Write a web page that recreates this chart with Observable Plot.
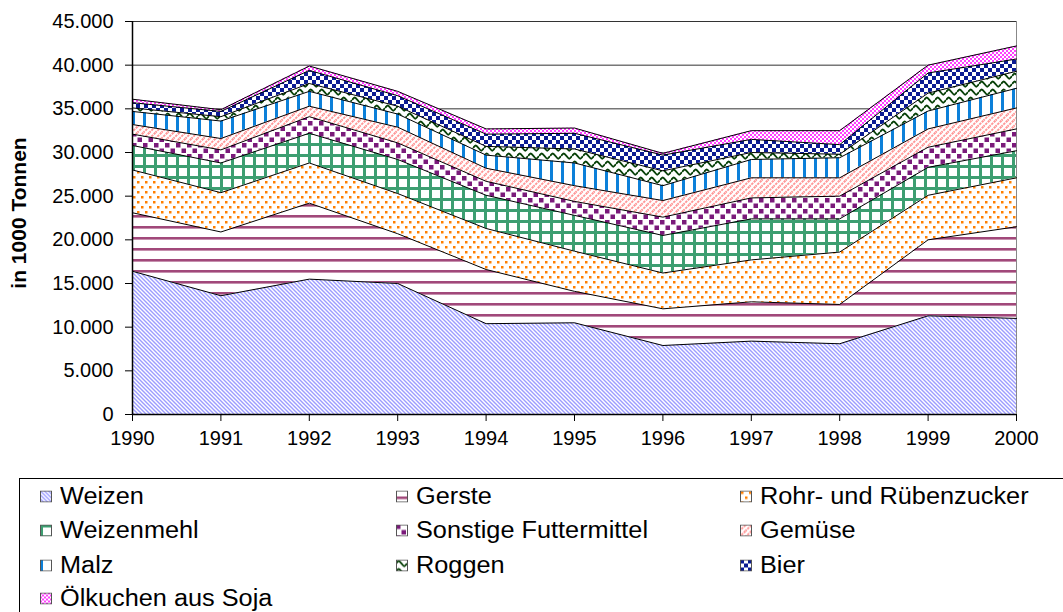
<!DOCTYPE html>
<html><head><meta charset="utf-8">
<script src="https://cdn.jsdelivr.net/npm/d3@7"></script>
<script src="https://cdn.jsdelivr.net/npm/@observablehq/plot@0.6"></script>
<style>
body{margin:0;background:#fff;font-family:"Liberation Sans",Arial,sans-serif;}
#wrap{position:relative;width:1063px;height:612px;overflow:hidden;background:#fff;}
#chart{position:absolute;left:0;top:0;}
#ytitle{position:absolute;left:19px;top:213px;transform:translate(-50%,-50%) rotate(-90deg);font-weight:bold;font-size:21px;white-space:nowrap;color:#000;}
#legend{position:absolute;left:19px;top:478px;width:1100px;height:200px;border:1px solid #000;box-sizing:border-box;}
.item{position:absolute;display:flex;align-items:center;font-size:23px;white-space:nowrap;transform:translateY(-50%);color:#000;}
.item svg{margin-right:8px;flex:none}
.item span{display:inline-block;transform:scaleX(1.1);transform-origin:left center;}
</style></head><body>
<svg width="0" height="0" style="position:absolute">
<defs>
<pattern id="pWeizen" patternUnits="userSpaceOnUse" width="4" height="4">
<rect width="4" height="4" fill="#fff"/>
<path d="M-1,-1L5,5M3,-1L5,1M-1,3L1,5" stroke="#9c9cff" stroke-width="1.4"/>
</pattern>
<pattern id="pGerste" patternUnits="userSpaceOnUse" y="6" width="10" height="11">
<rect width="10" height="11" fill="#fff"/>
<rect y="0" width="10" height="2.6" fill="#a1487a"/>
</pattern>
<pattern id="pZucker" patternUnits="userSpaceOnUse" width="8" height="10">
<rect width="8" height="10" fill="#fff"/>
<rect x="1" y="1" width="2.5" height="2.5" fill="#ff7f00"/>
<rect x="5" y="6" width="2.5" height="2.5" fill="#ff7f00"/>
</pattern>
<pattern id="pMehl" patternUnits="userSpaceOnUse" width="11" height="11">
<rect width="11" height="11" fill="#fff"/>
<rect x="0" y="0" width="3" height="11" fill="#3d9e71"/>
<rect x="0" y="0" width="11" height="3" fill="#3d9e71"/>
</pattern>
<pattern id="pFutter" patternUnits="userSpaceOnUse" width="11" height="11">
<rect width="11" height="11" fill="#fff"/>
<rect x="0" y="0" width="4.5" height="4.5" fill="#7a1a7a"/>
<rect x="5.5" y="5.5" width="4.5" height="4.5" fill="#7a1a7a"/>
</pattern>
<pattern id="pGemuese" patternUnits="userSpaceOnUse" width="6" height="6">
<rect width="6" height="6" fill="#fff"/>
<path d="M-1,7L7,-1M-1,1L1,-1M5,7L7,5" stroke="#ff9696" stroke-width="2" stroke-dasharray="2.4 1"/>
</pattern>
<pattern id="pMalz" patternUnits="userSpaceOnUse" width="11" height="10">
<rect width="11" height="10" fill="#fff"/>
<rect x="0" y="0" width="3" height="10" fill="#0c80d9"/>
</pattern>
<pattern id="pRoggen" patternUnits="userSpaceOnUse" width="11" height="8">
<rect width="11" height="8" fill="#fff"/>
<path d="M0,4C2.75,0.5 2.75,0.5 5.5,4S8.25,7.5 11,4" stroke="#074007" stroke-width="2" fill="none"/>
</pattern>
<pattern id="pBier" patternUnits="userSpaceOnUse" width="8" height="8">
<rect width="8" height="8" fill="#fff"/>
<rect x="0" y="0" width="4" height="4" fill="#0b1b92"/>
<rect x="4" y="4" width="4" height="4" fill="#0b1b92"/>
</pattern>
<pattern id="pOel" patternUnits="userSpaceOnUse" width="4" height="4">
<rect width="4" height="4" fill="#fff"/>
<rect x="0" y="0" width="2" height="2" fill="#ff40ff"/>
<rect x="2" y="2" width="2" height="2" fill="#ff40ff"/>
</pattern>
</defs></svg>
<div id="wrap"><div id="chart"></div><div id="ytitle">in 1000 Tonnen</div><div id="legend"></div></div>
<script>
const years = [1990,1991,1992,1993,1994,1995,1996,1997,1998,1999,2000];
const seriesNames = ["Weizen","Gerste","Rohr- und Rübenzucker","Weizenmehl","Sonstige Futtermittel","Gemüse","Malz","Roggen","Bier","Ölkuchen aus Soja"];
const patternIds = ["pWeizen","pGerste","pZucker","pMehl","pFutter","pGemuese","pMalz","pRoggen","pBier","pOel"];
const weizen    = [16400,13600,15500,15000,10400,10500,7900,8400,8100,11300,11000];
const gerste    = [6700,7300,8700,5700,6200,3600,4200,4500,4500,8700,10500];
const zucker    = [4900,4500,4600,4600,4700,4600,4100,4800,6000,5100,5600];
const weizenmehl= [2800,3400,3400,3900,3800,4100,4300,4700,3800,3200,3100];
const futter    = [1300,1500,1900,1900,1600,1600,2100,2400,2600,2300,2500];
const gemuese   = [1100,1300,1200,1800,1500,1800,1900,2300,2100,2100,2400];
const malz      = [1500,2000,1700,1500,1500,2600,1700,2100,2300,2050,2250];
const roggen    = [400,500,900,900,1000,1600,1700,800,400,2050,1950];
const bier      = [600,600,1500,1200,1400,1800,1800,1500,1100,2300,1400];
const oelkuchen = [400,200,500,500,600,600,200,1000,1600,900,1500];
const yTicks = [0,5000,10000,15000,20000,25000,30000,35000,40000,45000];
const legendRows = [["Weizen","Gerste","Rohr- und Rübenzucker"],["Weizenmehl","Sonstige Futtermittel","Gemüse"],["Malz","Roggen","Bier"],["Ölkuchen aus Soja"]];

const valuesList = [weizen,gerste,zucker,weizenmehl,futter,gemuese,malz,roggen,bier,oelkuchen];
const data = [];
seriesNames.forEach((s,i)=>years.forEach((y,j)=>data.push({series:s, year:y, value:valuesList[i][j]})));
const urls = patternIds.map(id=>`url(#${id})`);
const fmt = d => d === 0 ? "0" : d3.format(",")(d).replace(/,/g,".");

const chart = Plot.plot({
  width: 1063, height: 470,
  marginLeft: 132, marginRight: 47, marginTop: 21, marginBottom: 56,
  style: {fontFamily: '"Liberation Sans", Arial, sans-serif', fontSize: "20px", color: "#000", background: "transparent", overflow: "visible"},
  x: {domain: [1990,2000], ticks: years, tickFormat: d => String(d), tickSize: 7, tickPadding: 9, label: null},
  y: {domain: [0,45000], ticks: yTicks, tickFormat: fmt, tickSize: 7, tickPadding: 12, label: null},
  color: {domain: seriesNames, range: urls},
  marks: [
    Plot.ruleY(yTicks, {stroke: "#333", strokeWidth: 1}),
    Plot.ruleX([2000], {stroke: "#888", strokeWidth: 1}),
    Plot.areaY(data, Plot.stackY({x: "year", y: "value", z: "series", fill: "series"})),
    Plot.lineY(data, Plot.stackY2({x: "year", y: "value", z: "series", stroke: "#000", strokeWidth: 1})),
    Plot.ruleX([1990], {stroke: "#000", strokeWidth: 1.5}),
    Plot.ruleY([0], {stroke: "#000", strokeWidth: 1.5})
  ]
});
document.getElementById("chart").appendChild(chart);

const legend = document.getElementById("legend");
const colX = [20, 376, 720];
const rowY = [17, 51, 86, 119];
legendRows.forEach((row,r)=>row.forEach((name,c)=>{
  const id = patternIds[seriesNames.indexOf(name)];
  const div = document.createElement("div");
  div.className = "item";
  div.style.left = colX[c] + "px";
  div.style.top = rowY[r] + "px";
  div.innerHTML = `<svg width="12" height="12"><rect x="0.5" y="0.5" width="11" height="11" fill="url(#${id})" stroke="#555"/></svg><span>${name}</span>`;
  legend.appendChild(div);
}));
</script></body></html>
